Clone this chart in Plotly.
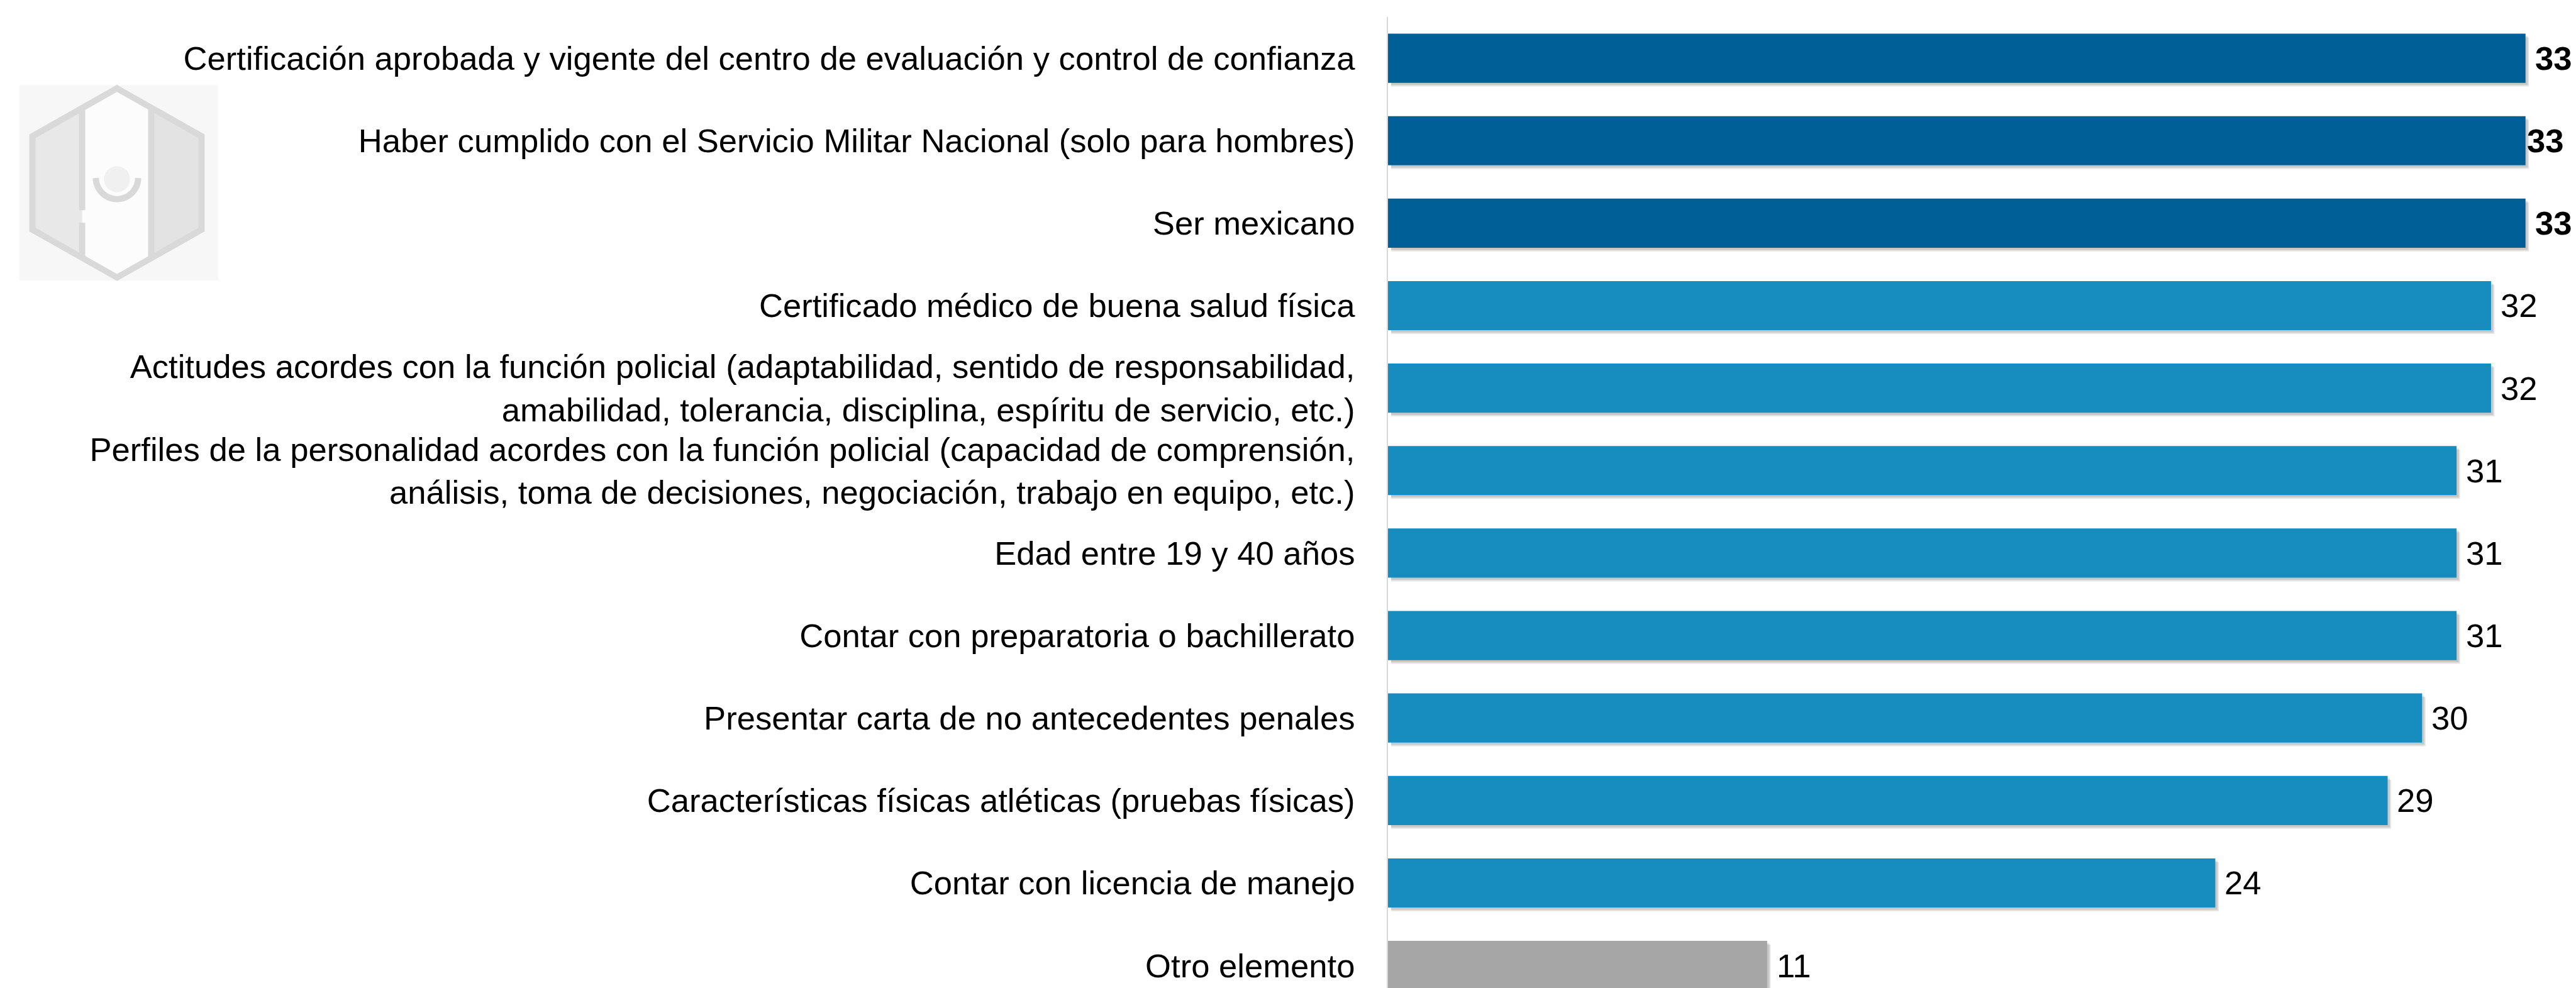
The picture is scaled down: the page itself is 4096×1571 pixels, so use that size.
import math
import plotly.graph_objects as go

# ---------------- data ----------------
categories = [
    "Certificación aprobada y vigente del centro de evaluación y control de confianza",
    "Haber cumplido con el Servicio Militar Nacional (solo para hombres)",
    "Ser mexicano",
    "Certificado médico de buena salud física",
    "Actitudes acordes con la función policial (adaptabilidad, sentido de responsabilidad,<br>amabilidad, tolerancia, disciplina, espíritu de servicio, etc.)",
    "Perfiles de la personalidad acordes con la función policial (capacidad de comprensión,<br>análisis, toma de decisiones, negociación, trabajo en equipo, etc.)",
    "Edad entre 19 y 40 años",
    "Contar con preparatoria o bachillerato",
    "Presentar carta de no antecedentes penales",
    "Características físicas atléticas (pruebas físicas)",
    "Contar con licencia de manejo",
    "Otro elemento",
]
values = [33, 33, 33, 32, 32, 31, 31, 31, 30, 29, 24, 11]
value_labels = ["33", "33", "33", "32", "32", "31", "31", "31", "30", "29", "24", "11"]

# ---------------- styles ----------------
S = 0.989
W, H = 4096, 1571
L_PLOT = 2199
T_PLOT = 19
PW = W - L_PLOT
PH = H - T_PLOT

DARK = "#005F96"
LIGHT = "#178CBE"
GREY = "#A6A6A6"
bar_colors = [DARK] * 3 + [LIGHT] * 8 + [GREY]
bold_flags = [True] * 3 + [False] * 9
label_shift = [13, 0, 13] + [13] * 9

FONT = "Liberation Sans, Arial, sans-serif"
FS = 53.2 * S

BAR_W = 0.596
X_UNITS = PW / (55.42 * S)
Y_UNITS = PH / (132.6 * S)

fig = go.Figure()

# soft drop shadows
for dy, dx, alpha in [(0.045, 0.10, 0.10), (0.028, 0.065, 0.12)]:
    fig.add_trace(go.Bar(
        x=[v + dx - 0.09 for v in values], y=categories, base=0.09, orientation="h",
        width=BAR_W, offset=-BAR_W / 2 + dy,
        marker=dict(color=f"rgba(0,0,0,{alpha})", line=dict(width=0)),
        hoverinfo="skip", showlegend=False,
    ))

fig.add_trace(go.Bar(
    x=values, y=categories, orientation="h",
    width=BAR_W, offset=-BAR_W / 2,
    marker=dict(color=bar_colors, line=dict(width=0)),
    showlegend=False,
))

for cat, v, lab, b, sh in zip(categories, values, value_labels, bold_flags, label_shift):
    fig.add_annotation(
        x=v, y=cat, xref="x", yref="y", text=f"<b>{lab}</b>" if b else lab,
        showarrow=False, xanchor="left", yanchor="middle", xshift=sh * S,
        font=dict(family=FONT, size=FS, color="#000000"),
    )

# ---------------- logo (decorative watermark) ----------------
def px(xr):
    return (xr * S - L_PLOT) / PW

def py(yr):
    return (H - yr * S) / PH

def path(points, close=True):
    s = "M " + " L ".join(f"{px(a)},{py(b)}" for a, b in points)
    return s + (" Z" if close else "")

shapes = []
shapes.append(dict(type="rect", xref="paper", yref="paper", x0=px(23), x1=px(343), y0=py(443), y1=py(129),
                   fillcolor="#F7F7F7", line=dict(width=0), layer="below"))
hexpts = [(180, 134), (316, 211), (316, 361), (180, 438), (44, 361), (44, 211)]
# middle fill
shapes.append(dict(type="path", xref="paper", yref="paper", path=path(hexpts), fillcolor="#FCFCFC",
                   line=dict(width=0), layer="below"))
# left region
left = [(124, 166), (124, 406), (44, 361), (44, 211)]
shapes.append(dict(type="path", xref="paper", yref="paper", path=path(left), fillcolor="#E8E8E8",
                   line=dict(width=0), layer="below"))
right = [(235, 165), (316, 211), (316, 361), (235, 407)]
shapes.append(dict(type="path", xref="paper", yref="paper", path=path(right), fillcolor="#E3E3E3",
                   line=dict(width=0), layer="below"))
# hexagon outline
shapes.append(dict(type="path", xref="paper", yref="paper", path=path(hexpts), fillcolor="rgba(0,0,0,0)",
                   line=dict(color="#D9D9D9", width=10 * S), layer="below"))
# vertical lines
for seg in [[(124, 166), (124, 330)], [(124, 350), (124, 406)], [(235, 165), (235, 407)]]:
    shapes.append(dict(type="path", xref="paper", yref="paper", path=path(seg, close=False),
                       line=dict(color="#D9D9D9", width=10 * S), layer="below"))
# circle
shapes.append(dict(type="circle", xref="paper", yref="paper", x0=px(159), x1=px(201), y0=py(301), y1=py(259),
                   fillcolor="#F0F0F0", line=dict(width=0), layer="below"))
# smile arc
arc = [(180 + 34 * math.cos(math.radians(a)), 278 + 34 * math.sin(math.radians(a))) for a in range(0, 181, 6)]
shapes.append(dict(type="path", xref="paper", yref="paper", path=path(arc, close=False),
                   line=dict(color="#D9D9D9", width=10 * S), layer="below"))

fig.update_layout(
    width=W, height=H,
    margin=dict(l=L_PLOT, r=0, t=T_PLOT, b=0, autoexpand=False),
    paper_bgcolor="white", plot_bgcolor="white",
    barmode="overlay",
    showlegend=False,
    shapes=shapes,
    font=dict(family=FONT, size=FS, color="#000000"),
)
fig.update_xaxes(range=[0, X_UNITS], showgrid=False, zeroline=False, showline=False,
                 showticklabels=False, ticks="", fixedrange=True)
fig.update_yaxes(type="category", categoryorder="array", categoryarray=categories,
                 range=[-0.5 + Y_UNITS, -0.5], showgrid=False, zeroline=False,
                 showline=True, linecolor="#D9D9D9", linewidth=2, ticks="",
                 ticklabelstandoff=40,
                 tickfont=dict(family=FONT, size=FS, color="#000000"), fixedrange=True)

fig.write_html("out.html")
